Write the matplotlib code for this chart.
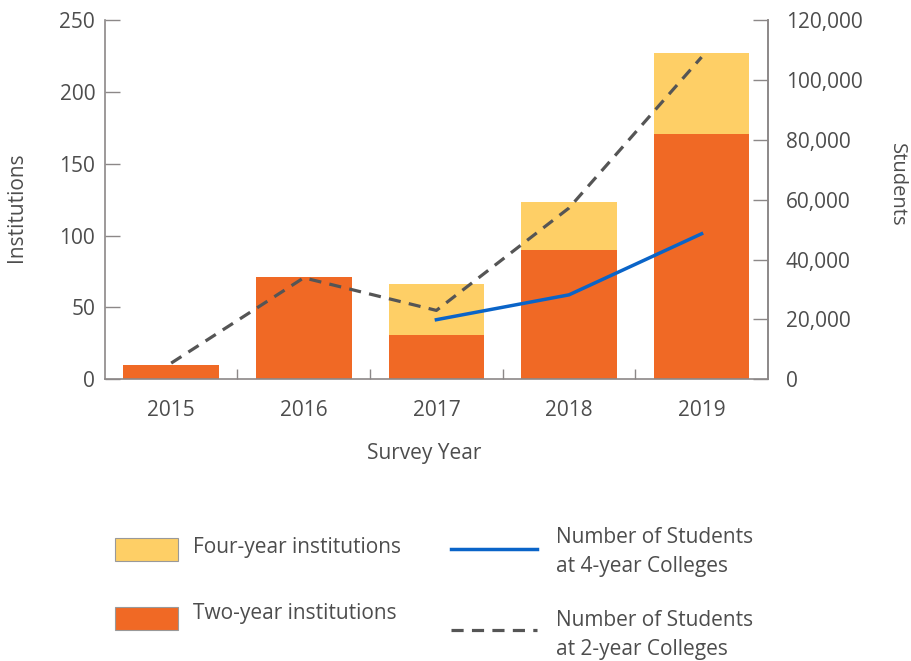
import numpy as np
import matplotlib

matplotlib.use('Agg')

import matplotlib.pyplot as plt
from matplotlib.patches import Rectangle
from matplotlib.lines import Line2D

plt.rcParams['font.family'] = ['Open Sans', 'DejaVu Sans']

years = ['2015', '2016', '2017', '2018', '2019']
two_year = [10, 71, 31, 90, 171]
four_year = [0, 0, 35, 33, 56]

# students (right axis); None = no data point
students_2yr = [5400, 33900, 23000, 57200, 107600]
students_4yr = [None, None, 19900, 28200, 48600]

ORANGE = '#F06925'
YELLOW = '#FECF66'
BLUE = '#0A64C8'
DARK = '#555555'
SPINE = '#8C8888'
TXT = '#4D4D4D'

fig = plt.figure(figsize=(9.12, 6.61), dpi=100)
ax = fig.add_axes([0.115, 0.4262, 0.727, 0.5436])
x = np.arange(len(years))

ax.bar(x, two_year, width=0.72, color=ORANGE, zorder=2)
ax.bar(x, four_year, width=0.72, bottom=two_year, color=YELLOW, zorder=2)

ax.set_xlim(-0.5, 4.5)
ax.set_ylim(0, 250)
ax.set_yticks(range(0, 251, 50))
ax.set_xticks(x)
ax.set_xticklabels(years)
ax.set_xticks(x[:-1] + 0.5, minor=True)

ax.spines['top'].set_visible(False)
for s in ['left', 'bottom', 'right']:
    ax.spines[s].set_color(SPINE)
    ax.spines[s].set_linewidth(1.2)

ax.tick_params(axis='y', direction='in', length=11, width=1.0, color=SPINE,
               labelsize=15, labelcolor=TXT, pad=7)
ax.tick_params(axis='x', which='major', length=0, labelsize=15,
               labelcolor=TXT, pad=15)
ax.tick_params(axis='x', which='minor', direction='in', length=7,
               width=1.0, color=SPINE)

ax.set_xlabel('Survey Year', fontsize=15, color=TXT)
ax.xaxis.set_label_coords(0.481, -0.178)
ax.set_ylabel('Institutions', fontsize=15, color=TXT)
ax.yaxis.set_label_coords(-0.117, 0.48)

ax2 = ax.twinx()
ax2.set_ylim(0, 120000)
ax2.set_yticks(range(0, 120001, 20000))
ax2.yaxis.set_major_formatter(matplotlib.ticker.StrMethodFormatter('{x:,.0f}'))
for s in ['top', 'left', 'bottom']:
    ax2.spines[s].set_visible(False)
ax2.spines['right'].set_color(SPINE)
ax2.spines['right'].set_linewidth(1.2)
ax2.tick_params(axis='y', direction='in', length=11, width=1.0, color=SPINE,
                labelsize=15, labelcolor=TXT, pad=13)

s2 = np.array([np.nan if v is None else v for v in students_2yr], float)
s4 = np.array([np.nan if v is None else v for v in students_4yr], float)
ax2.plot(x, s2, color=DARK, lw=2.3, ls=(0, (3.8, 2.6)), zorder=3)
ax2.plot(x, s4, color=BLUE, lw=2.5, zorder=3)

ax2.set_ylabel('Students', fontsize=14.5, color=TXT, rotation=-90)
ax2.yaxis.set_label_coords(1.21, 0.54)

# legend drawn in figure pixels
W, H = 912, 661


def fx(px):
    return px / W


def fy(py):
    return 1 - py / H


for top, col in [(538, YELLOW), (607, ORANGE)]:
    fig.patches.append(Rectangle((fx(115), fy(top + 23)), fx(63), 23 / H,
                                 transform=fig.transFigure, facecolor=col,
                                 edgecolor='#999999', lw=0.8))
fig.text(fx(193), fy(548), 'Four-year institutions', fontsize=15,
         color=TXT, va='center')
fig.text(fx(193), fy(614), 'Two-year institutions', fontsize=15,
         color=TXT, va='center')

fig.lines.append(Line2D([fx(451), fx(537)], [fy(549), fy(549)],
                        transform=fig.transFigure, color=BLUE, lw=2.5))
fig.lines.append(Line2D([fx(451), fx(537)], [fy(630), fy(630)],
                        transform=fig.transFigure, color=DARK, lw=2.3,
                        ls=(0, (3.8, 2.6))))
fig.text(fx(556), fy(552), 'Number of Students\nat 4-year Colleges',
         fontsize=15, color=TXT, va='center', linespacing=1.5)
fig.text(fx(556), fy(635), 'Number of Students\nat 2-year Colleges',
         fontsize=15, color=TXT, va='center', linespacing=1.5)

fig.savefig('out.png', dpi=100)
